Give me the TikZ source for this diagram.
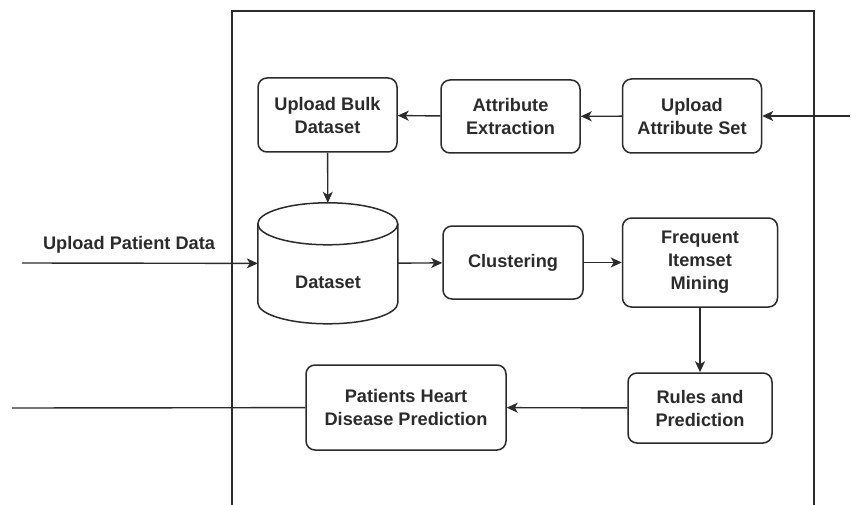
\documentclass[tikz,border=0pt]{standalone}
\usepackage{fontspec}
\setmainfont{Liberation Sans}
\usetikzlibrary{arrows.meta}
\definecolor{ink}{HTML}{2B2B2B}

\begin{document}
\begin{tikzpicture}[x=1pt,y=-1pt,
		every node/.style={text=ink,font=\bfseries\fontsize{18.2}{23}\selectfont,align=center},
		box/.style={draw=ink,line width=1.5pt,rounded corners=9pt,inner sep=0pt},
		link/.style={draw=ink,line width=1.4pt,-{Stealth[length=11pt,width=10pt,inset=3pt]}},
		wire/.style={draw=ink,line width=1.4pt}]
		\useasboundingbox (0,0) rectangle (856,505);

		% system frame, open at the bottom
		\draw[wire] (232,505) -- (232,11) -- (814,11) -- (814,505);

		\node[box,minimum width=139,minimum height=74] (ubd) at (327.5,115) {Upload Bulk\\Dataset};
		\node[box,minimum width=139,minimum height=73] (ae)  at (510.5,116.5) {Attribute\\Extraction};
		\node[box,minimum width=139,minimum height=74] (uas) at (692,116) {Upload\\Attribute Set};
		\node[minimum width=140,minimum height=121,inner sep=0pt] (ds) at (328,263.5) {};
		\node (dsl) at (328,282) {Dataset};
		\node[box,minimum width=140,minimum height=73] (cl) at (513,262.5) {Clustering};
		\node[box,minimum width=155,minimum height=89] (fim) at (700,262.5) {Frequent\\Itemset\\Mining};
		\node[box,minimum width=144,minimum height=70] (rp) at (700,408) {Rules and\\Prediction};
		\node[box,minimum width=200,minimum height=85] (hd) at (406,407.5) {Patients Heart\\Disease Prediction};

		% the dataset drum
		\draw[draw=ink,line width=1.5pt] (ds.north west) ++(0,21) -- ++(0,79)
			arc[start angle=180,end angle=0,x radius=70,y radius=21] -- ++(0,-79)
			arc[start angle=0,end angle=-180,x radius=70,y radius=21] -- cycle;
		\draw[draw=ink,line width=1.5pt] (ds.north west) ++(0,21)
			arc[start angle=180,end angle=0,x radius=70,y radius=21];

		\coordinate (inA) at (850,116);
		\coordinate (inP) at (22,263);
		\coordinate (outP) at (12,408);
		\node (lblP) at (129,245) {Upload Patient Data};

		\draw[link] (inA) -- (uas);
		\draw[link] (uas) -- (ae);
		\draw[link] (ae) -- (ubd);
		\draw[link] (ubd) -- (ds);
		\draw[link] (inP) -- (ds);
		\draw[link] (ds) -- (cl);
		\draw[link] (cl) -- (fim);
		\draw[link] (fim) -- (rp);
		\draw[link] (rp) -- (hd);
		\draw[wire] (hd) -- (outP);
\end{tikzpicture}
\end{document}
